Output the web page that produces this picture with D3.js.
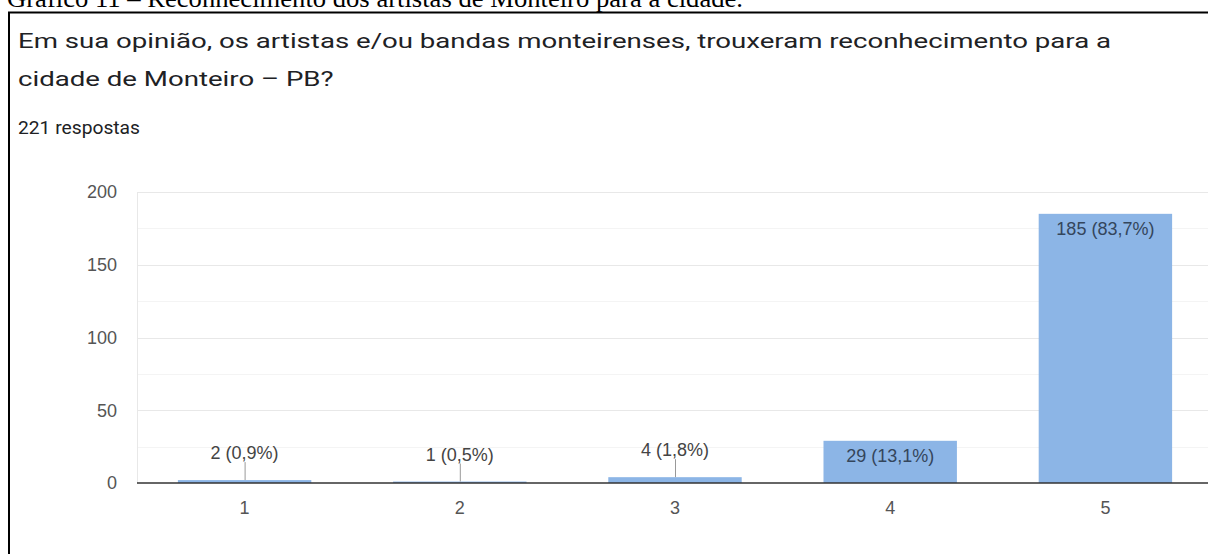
<!DOCTYPE html>
<html>
<head>
<meta charset="utf-8">
<script src="https://cdn.jsdelivr.net/npm/d3@7"></script>
<style>
  html, body { margin: 0; padding: 0; background: #fff; }
  svg { display: block; }
</style>
</head>
<body>
<svg id="chart" width="1208" height="554"></svg>
<script>
// Survey answers (scale 1–5) and response counts
const categories = ["1", "2", "3", "4", "5"];
const counts = [2, 1, 4, 29, 185];
const percentLabels = ["0,9%", "0,5%", "1,8%", "13,1%", "83,7%"];
const yTicks = [0, 50, 100, 150, 200];
const gridValues = [25, 50, 75, 100, 125, 150, 175, 200];

const captionText = "Gráfico 11 – Reconhecimento dos artistas de Monteiro para a cidade.";
const titleLines = [
  "Em sua opinião, os artistas e/ou bandas monteirenses, trouxeram reconhecimento para a",
  "cidade de Monteiro – PB?"
];
const responsesText = "221 respostas";

const svg = d3.select("#chart");
const W = 1208, H = 554;
const chartFont = "'Liberation Sans', Arial, sans-serif";

// Document caption above the framed chart
svg.append("text")
  .attr("x", 7).attr("y", 7)
  .attr("font-family", "'Liberation Serif', 'Times New Roman', serif")
  .attr("font-size", 25)
  .attr("textLength", 736)
  .attr("lengthAdjust", "spacingAndGlyphs")
  .attr("fill", "#000")
  .text(captionText);

// Frame around the form card
svg.append("line").attr("x1", 8).attr("x2", W).attr("y1", 12.5).attr("y2", 12.5)
  .attr("stroke", "#000").attr("stroke-width", 2);
svg.append("line").attr("x1", 9).attr("x2", 9).attr("y1", 12).attr("y2", H)
  .attr("stroke", "#000").attr("stroke-width", 2);

// Question title, stretched to the card width
const titleG = svg.append("g");
const tl = titleG.selectAll("text.title").data(titleLines).enter().append("text")
  .attr("class", "title")
  .attr("x", 0)
  .attr("y", (d, i) => 48 + i * 38)
  .attr("font-family", "Roboto, 'Noto Sans', sans-serif")
  .attr("font-size", 21)
  .attr("fill", "#202124")
  .text(d => d);
const firstLen = tl.node().getComputedTextLength();
const sx = 1094 / firstLen;
titleG.attr("transform", `translate(18,0) scale(${sx},1)`);

svg.append("text")
  .attr("x", 18).attr("y", 134)
  .attr("font-family", "Roboto, 'Noto Sans', sans-serif")
  .attr("font-size", 18)
  .attr("textLength", 122)
  .attr("lengthAdjust", "spacingAndGlyphs")
  .attr("fill", "#202124")
  .text(responsesText);

// Scales
const x = d3.scaleBand().domain(categories).range([137, 1213])
  .paddingInner(0.38).paddingOuter(0.19);
const y = d3.scaleLinear().domain([0, 200]).range([483, 192]);

const plot = svg.append("g");

// Horizontal gridlines
plot.selectAll("line.grid").data(gridValues).enter().append("line")
  .attr("x1", 137).attr("x2", W)
  .attr("y1", d => Math.round(y(d)) + 0.5).attr("y2", d => Math.round(y(d)) + 0.5)
  .attr("stroke", d => d % 50 === 0 ? "#e8e8e8" : "#f4f4f4")
  .attr("stroke-width", 1);

// Left edge of the plot area
plot.append("line")
  .attr("x1", 137.5).attr("x2", 137.5).attr("y1", y(200)).attr("y2", y(0))
  .attr("stroke", "#e8e8e8");

// Y axis labels
const yAxis = d3.axisLeft(y).tickValues(yTicks).tickSize(0).tickPadding(0);
const yg = svg.append("g").attr("transform", "translate(117,0)").call(yAxis);
yg.select(".domain").remove();
yg.selectAll("text")
  .attr("font-family", chartFont)
  .attr("font-size", 18)
  .attr("fill", "#555");

// Bars
const rows = categories.map((c, i) => ({ cat: c, value: counts[i], pct: percentLabels[i] }));
plot.selectAll("rect.bar").data(rows).enter().append("rect")
  .attr("class", "bar")
  .attr("x", d => x(d.cat))
  .attr("width", x.bandwidth())
  .attr("y", d => y(d.value))
  .attr("height", d => y(0) - y(d.value))
  .attr("fill", "#8cb5e6");

// Baseline
plot.append("line")
  .attr("x1", 137).attr("x2", W).attr("y1", y(0)).attr("y2", y(0))
  .attr("stroke", "#333").attr("stroke-width", 1.5);

// X axis labels
const xAxis = d3.axisBottom(x).tickSize(0).tickPadding(0);
const xg = svg.append("g").attr("transform", `translate(0,${y(0) + 31})`).call(xAxis);
xg.select(".domain").remove();
xg.selectAll("text")
  .attr("dy", 0)
  .attr("font-family", chartFont)
  .attr("font-size", 18)
  .attr("fill", "#555");

// Value annotations: inside tall bars, above short bars with a stem
const stem = 18;
const inside = d => (y(0) - y(d.value)) > 30;
const ann = svg.append("g");
rows.forEach(d => {
  const cx = x(d.cat) + x.bandwidth() / 2;
  const top = y(d.value);
  if (inside(d)) {
    ann.append("text")
      .attr("x", cx).attr("y", top + 21)
      .attr("text-anchor", "middle")
      .attr("font-family", chartFont)
      .attr("font-size", 18)
      .attr("fill", "#34465c")
      .text(`${d.value} (${d.pct})`);
  } else {
    ann.append("line")
      .attr("x1", cx + 0.5).attr("x2", cx + 0.5)
      .attr("y1", top).attr("y2", top - stem)
      .attr("stroke", "#999").attr("stroke-width", 1);
    ann.append("text")
      .attr("x", cx).attr("y", top - stem - 3)
      .attr("text-anchor", "middle")
      .attr("font-family", chartFont)
      .attr("font-size", 18)
      .attr("fill", "#444")
      .text(`${d.value} (${d.pct})`);
  }
});
</script>
</body>
</html>
